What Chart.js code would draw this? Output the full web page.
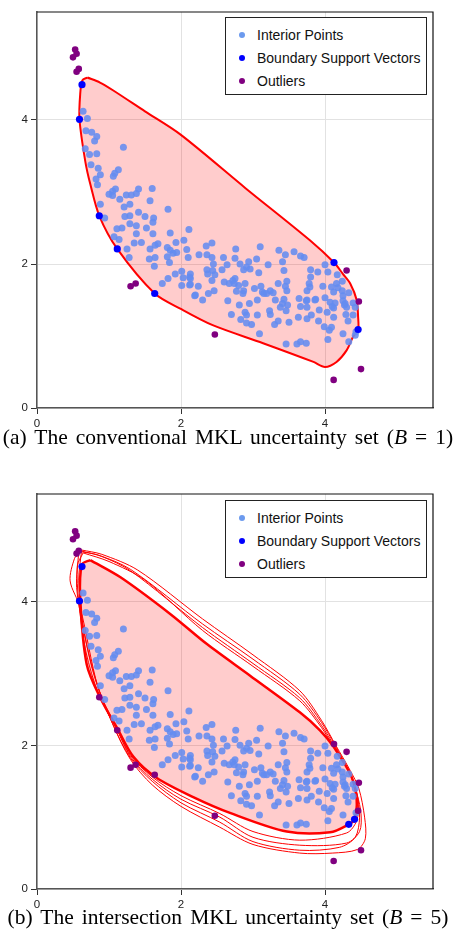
<!DOCTYPE html>
<html>
<head>
<meta charset="utf-8">
<script src="https://cdn.jsdelivr.net/npm/chart.js@4.4.0/dist/chart.umd.min.js"></script>
<style>
  body { margin:0; background:#fff; width:456px; height:943px; position:relative; overflow:hidden; }
  canvas { position:absolute; left:0; }
  .legend { position:absolute; left:225px; width:202px; height:78px; border:1px solid #222; background:#fff;
            box-sizing:border-box; font-family:"Liberation Sans", Arial, sans-serif; font-size:14px; color:#111; z-index:2; }
  .legend div { position:absolute; left:0; height:20px; line-height:20px; white-space:nowrap; }
  .legend span.dot { position:absolute; left:13px; top:7px; width:6px; height:6px; border-radius:50%; }
  .legend span.txt { position:absolute; left:31px; }
  .caption { position:absolute; left:0; width:456px; text-align:center; height:26px; line-height:26px; white-space:nowrap;
             font-family:"Liberation Serif", "Times New Roman", serif; font-size:21.5px; word-spacing:2.7px; color:#000; z-index:2; }
</style>
</head>
<body>
<canvas id="chartA" width="456" height="440" style="top:0"></canvas>
<canvas id="chartB" width="456" height="439" style="top:482px"></canvas>

<div class="legend" style="top:17px">
  <div style="top:7px"><span class="dot" style="background:rgba(100,149,237,0.95)"></span><span class="txt">Interior Points</span></div>
  <div style="top:30px"><span class="dot" style="background:#0000ff"></span><span class="txt">Boundary Support Vectors</span></div>
  <div style="top:53px"><span class="dot" style="background:#800080"></span><span class="txt">Outliers</span></div>
</div>
<div class="legend" style="top:500px">
  <div style="top:7px"><span class="dot" style="background:rgba(100,149,237,0.95)"></span><span class="txt">Interior Points</span></div>
  <div style="top:30px"><span class="dot" style="background:#0000ff"></span><span class="txt">Boundary Support Vectors</span></div>
  <div style="top:53px"><span class="dot" style="background:#800080"></span><span class="txt">Outliers</span></div>
</div>

<div class="caption" style="top:424px">(a) The conventional MKL uncertainty set (<i>B</i> = 1)</div>
<div class="caption" style="top:904px">(b) The intersection MKL uncertainty set (<i>B</i> = 5)</div>

<script>
// axis setup
const tickValues = [0, 2, 4];
const axisMin = 0, axisMax = 5.5;

// interior points shared by both panels
const interiorPoints = [
  [0.64,4.12],[0.70,4.02],[0.68,3.85],[0.76,3.83],[0.83,3.77],[0.80,3.71],[0.67,3.60],[0.73,3.52],[0.83,3.53],
  [1.20,3.62],[0.75,3.38],[0.85,3.33],[0.88,3.24],[0.82,3.18],[0.84,3.10],[1.13,3.31],[1.08,3.26],[1.06,3.22],
  [1.41,3.04],[1.60,3.05],[1.09,3.04],[1.05,3.01],[1.00,2.97],[1.05,2.95],[1.15,2.90],[1.24,2.96],[1.31,2.96],
  [1.38,2.98],[1.57,2.88],[0.88,2.83],[1.21,2.79],[1.29,2.83],[1.82,2.76],
  [0.94,2.64],[1.11,2.49],[1.18,2.50],[1.07,2.38],[1.14,2.34],[1.25,2.21],[1.28,2.09],[1.29,2.67],[1.22,2.66],
  [1.29,2.56],[1.38,2.53],[1.41,2.72],[1.50,2.66],[1.62,2.64],[1.52,2.50],[1.38,2.42],[1.35,2.29],[1.45,2.30],
  [1.61,2.42],[1.57,2.21],[1.64,2.26],[1.68,2.28],[1.64,2.09],[1.56,2.07],[1.63,1.97],[1.81,2.23],[1.85,2.43],
  [1.93,2.30],[2.04,2.33],[1.85,2.19],[1.89,2.15],[1.94,2.16],[1.81,2.10],[1.84,2.02],[2.08,2.20],[2.10,2.09],
  [1.92,1.86],[1.82,1.80],[1.74,1.73],[2.01,1.90],[2.03,1.81],[2.01,1.70],[2.12,1.82],[2.12,1.71],[1.61,2.58],
  [2.11,2.48],[2.25,2.13],[2.35,2.25],[2.43,2.29],[2.36,2.13],[2.43,2.09],[2.59,2.09],[2.76,2.21],[2.75,2.08],
  [2.82,2.00],[2.91,1.96],[2.94,2.03],[3.05,2.07],[3.10,2.24],[3.21,1.99],[3.36,2.19],[3.45,2.13],[3.57,2.17],
  [3.66,2.11],[3.71,2.09],[3.41,2.03],[3.43,1.91],[3.08,1.88],[2.96,1.93],[2.87,1.92],[2.64,1.99],[2.57,1.92],
  [2.45,2.00],[2.44,1.91],[2.36,1.92],[2.37,1.86],[2.47,1.85],[2.43,1.77],[2.13,1.86],[2.13,1.80],[2.13,1.72],
  [2.24,1.69],[2.20,1.57],[2.30,1.50],[2.38,1.59],[2.46,1.63],[2.60,1.75],[2.67,1.73],[2.72,1.77],[2.75,1.80],
  [2.74,1.73],[2.80,1.70],[2.89,1.73],[2.87,1.63],[2.86,1.59],[2.77,1.62],[2.65,1.49],[2.81,1.43],[2.95,1.45],
  [3.02,1.66],[3.11,1.69],[3.24,1.63],[3.13,1.61],[3.06,1.50],[3.28,1.60],[3.31,1.50],[3.35,1.73],[3.47,1.76],
  [3.45,1.69],[3.47,1.63],[3.43,1.51],[3.38,1.40],[3.48,1.43],[3.64,1.52],[3.75,1.63],[3.75,1.50],[3.75,1.40],
  [4.00,1.99],[4.04,1.89],[3.90,1.89],[3.80,1.92],[3.80,1.82],[3.78,1.73],[3.79,1.68],[3.97,1.69],[4.09,1.68],
  [4.16,1.73],[4.24,1.76],[4.17,1.85],[4.12,1.61],[4.18,1.67],[4.24,1.63],[4.33,1.60],[4.25,1.56],[4.00,1.53],
  [3.87,1.51],[4.07,1.47],[4.14,1.46],[4.28,1.45],[4.39,1.46],[4.30,1.40],[4.42,1.40],[4.12,1.39],
  [2.19,1.56],[2.70,1.30],[2.83,1.23],[2.89,1.33],[2.91,1.29],[2.98,1.16],[2.91,1.18],[3.06,1.29],[3.09,1.03],
  [3.15,1.59],[3.23,1.35],[3.24,1.30],[3.30,1.16],[3.35,1.21],[3.19,1.59],[3.41,1.45],[3.46,1.35],[3.50,1.19],
  [3.46,0.89],[3.61,0.89],[3.66,0.92],[3.74,0.90],[3.63,1.26],[3.75,1.24],[3.81,1.29],[3.66,1.41],[3.74,1.49],
  [3.86,1.50],[3.92,1.36],[3.91,1.21],[3.99,1.13],[4.03,1.33],[4.10,1.41],[4.12,1.26],[4.04,0.95],[4.06,1.08],
  [4.09,1.12],[4.25,1.49],[4.27,1.43],[4.29,1.30],[4.32,1.21],[4.25,1.03],[4.39,1.29],[4.43,1.06]
];
// interior only in panel (a); support vectors in panel (b)
const interiorOnlyA = [[4.33,0.92],[4.42,1.01]];

const boundaryA = [[0.625,4.49],[0.59,4.01],[0.865,2.67],[1.115,2.21],[1.635,1.59],[4.125,2.02],[4.46,1.09]];
const boundaryB = [[0.625,4.49],[0.59,4.01],[4.33,0.90],[4.41,0.97]];

const outliersCommon = [[0.53,4.98],[0.55,4.92],[0.50,4.87],[0.58,4.71],[0.55,4.67],[1.30,1.69],[1.37,1.73],
  [4.30,1.91],[4.47,1.48],[2.47,1.02],[4.12,0.39],[4.50,0.54]];
const outliersOnlyB = [[0.865,2.67],[1.115,2.21],[1.635,1.59],[4.125,2.02],[4.46,1.09]];

// uncertainty set boundaries
const regionA = [[0.70,4.59],[0.875,4.52],[1.06,4.41],[1.50,4.12],[1.99,3.80],[2.90,3.05],[3.79,2.33],[4.125,2.02],
  [4.25,1.86],[4.35,1.73],[4.44,1.50],[4.46,1.26],[4.46,1.09],[4.39,0.99],[4.30,0.80],[4.16,0.64],[4.00,0.57],
  [3.84,0.64],[3.14,0.90],[2.44,1.15],[1.99,1.38],[1.635,1.59],[1.115,2.21],[0.865,2.67],[0.74,3.11],[0.67,3.43],
  [0.59,4.01],[0.60,4.36],[0.63,4.55],[0.70,4.59]];

const regionB = [[0.74,4.58],[1.16,4.34],[1.85,3.83],[2.36,3.41],[2.96,2.97],[3.65,2.46],[3.93,2.21],[4.12,1.98],
  [4.37,1.56],[4.44,1.24],[4.41,0.97],[4.33,0.90],[4.07,0.79],[3.47,0.80],[2.68,1.06],[2.17,1.28],[1.66,1.55],
  [1.34,1.84],[1.13,2.21],[0.875,2.67],[0.69,3.13],[0.60,4.06],[0.625,4.52],[0.74,4.58]];

const kernelSet1 = [[0.62,4.72],[0.90,4.66],[1.40,4.44],[2.30,3.76],[3.00,3.26],[3.65,2.76],[3.95,2.35],[4.15,2.00],
  [4.35,1.65],[4.47,1.40],[4.55,1.00],[4.56,0.70],[4.45,0.55],[4.10,0.50],[3.65,0.50],[3.00,0.62],[2.54,0.86],
  [2.00,1.15],[1.60,1.45],[1.30,1.80],[1.05,2.30],[0.82,2.90],[0.65,3.60],[0.58,4.30],[0.62,4.72]];
const kernelSet2 = [[0.58,4.70],[0.85,4.65],[1.30,4.45],[2.30,3.69],[3.00,3.20],[3.65,2.71],[3.95,2.32],[4.14,2.00],
  [4.33,1.64],[4.44,1.35],[4.48,1.00],[4.42,0.72],[4.20,0.58],[3.65,0.54],[3.00,0.66],[2.54,0.93],[2.00,1.20],
  [1.60,1.50],[1.30,1.82],[1.05,2.30],[0.80,2.95],[0.65,3.60],[0.55,4.20],[0.58,4.70]];
const kernelSet3 = [[0.60,4.71],[0.90,4.63],[1.30,4.43],[2.30,3.64],[3.00,3.14],[3.65,2.66],[3.95,2.28],[4.13,1.99],
  [4.34,1.62],[4.45,1.30],[4.50,1.05],[4.48,0.80],[4.30,0.64],[3.65,0.61],[3.00,0.72],[2.54,1.00],[2.00,1.25],
  [1.60,1.53],[1.30,1.84],[1.10,2.25],[0.85,2.80],[0.60,3.92],[0.46,4.29],[0.52,4.60],[0.60,4.71]];
const kernelSet4 = [[0.64,4.68],[1.00,4.56],[1.50,4.30],[2.30,3.60],[3.00,3.10],[3.65,2.62],[3.95,2.25],[4.12,1.98],
  [4.36,1.58],[4.46,1.20],[4.44,0.95],[4.30,0.78],[3.65,0.68],[3.00,0.80],[2.54,1.05],[2.00,1.30],[1.60,1.56],
  [1.30,1.86],[1.10,2.24],[0.86,2.70],[0.68,3.30],[0.58,4.00],[0.56,4.50],[0.64,4.68]];

const toXY = arr => arr.map(p => ({ x: p[0], y: p[1] }));

// black frame on top and right side of the plot
const framePlugin = {
  id: 'frame',
  beforeDatasetsDraw(chart) {
    const a = chart.chartArea, c = chart.ctx;
    c.save();
    c.strokeStyle = '#111';
    c.lineWidth = 1.2;
    c.beginPath();
    c.moveTo(a.left, a.top); c.lineTo(a.right, a.top); c.lineTo(a.right, a.bottom);
    c.stroke();
    c.restore();
  }
};

function axis(isX) {
  return {
    type: 'linear', min: axisMin, max: axisMax,
    afterBuildTicks: s => { s.ticks = tickValues.map(v => ({ value: v })); },
    afterFit: s => { if (isX) s.height = 32; else s.width = 37; },
    ticks: { color: '#222', padding: 3, font: { size: 11.5, family: '"Liberation Sans", Arial, sans-serif' } },
    grid: { color: '#e2e2e2', tickColor: '#333', tickLength: 6, lineWidth: 1 },
    border: { color: '#555', width: 1.5 }
  };
}

function makeChart(id, interior, boundary, outliers, region, regionWidth, curves) {
  const datasets = [
    { label: 'Outliers', data: toXY(outliers), backgroundColor: '#800080', borderWidth: 0, pointRadius: 3.3, order: 0 },
    { label: 'Boundary Support Vectors', data: toXY(boundary), backgroundColor: '#0000ff', borderWidth: 0, pointRadius: 3.6, order: 1 },
    { label: 'Interior Points', data: toXY(interior), backgroundColor: 'rgba(100,140,240,0.88)', borderWidth: 0, pointRadius: 3.5, order: 2 },
    { label: 'Region', data: toXY(region), showLine: true, fill: 'shape', backgroundColor: 'rgba(255,0,0,0.2)',
      borderColor: '#ff0000', borderWidth: regionWidth, pointRadius: 0, tension: 0.3, order: 3 }
  ];
  curves.forEach((cv, i) => {
    datasets.push({ label: 'Set ' + (i + 1), data: toXY(cv), showLine: true, fill: false, borderColor: '#ff0000',
      borderWidth: 1, pointRadius: 0, tension: 0.3, order: 4 });
  });
  return new Chart(document.getElementById(id), {
    type: 'scatter',
    data: { datasets: datasets },
    options: {
      responsive: false,
      animation: false,
      layout: { padding: { top: 12, right: 23, left: 0, bottom: 0 } },
      scales: { x: axis(true), y: axis(false) },
      plugins: { legend: { display: false }, tooltip: { enabled: false } }
    },
    plugins: [framePlugin]
  });
}

makeChart('chartA', interiorPoints.concat(interiorOnlyA), boundaryA, outliersCommon, regionA, 2, []);
makeChart('chartB', interiorPoints, boundaryB, outliersCommon.concat(outliersOnlyB), regionB, 2.5,
  [kernelSet1, kernelSet2, kernelSet3, kernelSet4]);
</script>
</body>
</html>
